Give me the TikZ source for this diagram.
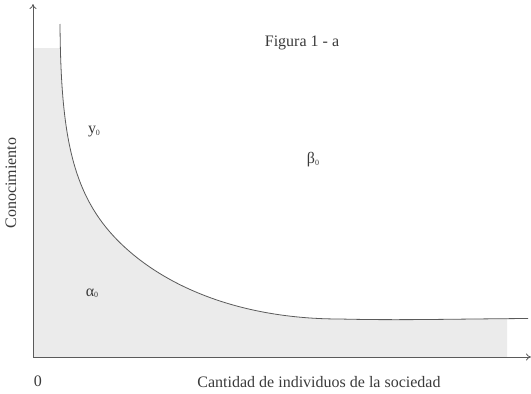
\documentclass[tikz,border=0pt]{standalone}
\usepackage{fontspec}
\setmainfont{Liberation Serif}
\usetikzlibrary{arrows.meta}
\definecolor{linegray}{HTML}{5A5A5A}
\definecolor{fillgray}{HTML}{EBEBEB}
\definecolor{textgray}{HTML}{3A3A3A}
\newcommand{\tinysub}[1]{\raisebox{-0.2ex}{\fontsize{8}{8}\selectfont #1}}
\begin{document}
\begin{tikzpicture}[x=1pt,y=-1pt,
  axis/.style={draw=linegray,line width=0.8pt,-{To[length=5pt,width=7pt]}},
  curveline/.style={draw=linegray,line width=0.8pt},
  lbl/.style={text=textgray,font=\fontsize{16}{18}\selectfont,inner sep=0pt}]
\useasboundingbox (0,0) rectangle (531,394);
\def\curvepath{(60,24) .. controls (61,150) and (75,210) .. (140,260)
  .. controls (190,298) and (260,319) .. (340,319)
  .. controls (400,320.5) and (450,319) .. (528,318.5)}
\coordinate (O) at (33,357);
\coordinate (ytip) at (33,4);
\coordinate (xtip) at (531,357);
\begin{scope}
  \clip (33,48) rectangle (507,357);
  \fill[fillgray] \curvepath -- (528,357) -- (33,357) -- (33,24) -- cycle;
\end{scope}
\draw[curveline] \curvepath;
\draw[axis] (O) -- (ytip);
\draw[axis] (O) -- (xtip);
\node[lbl] (title) at (302,43) {Figura 1 - a};
\node[lbl] (y0) at (94,132) {y\tinysub{0}};
\node[lbl] (b0) at (313,160) {β\tinysub{0}};
\node[lbl] (a0) at (92,293) {α\tinysub{0}};
\node[lbl] (zero) at (38,381) {0};
\node[lbl] (xlabel) at (319,382) {Cantidad de individuos de la sociedad};
\node[lbl,rotate=90] (ylabel) at (11,183) {Conocimiento};
\end{tikzpicture}
\end{document}
